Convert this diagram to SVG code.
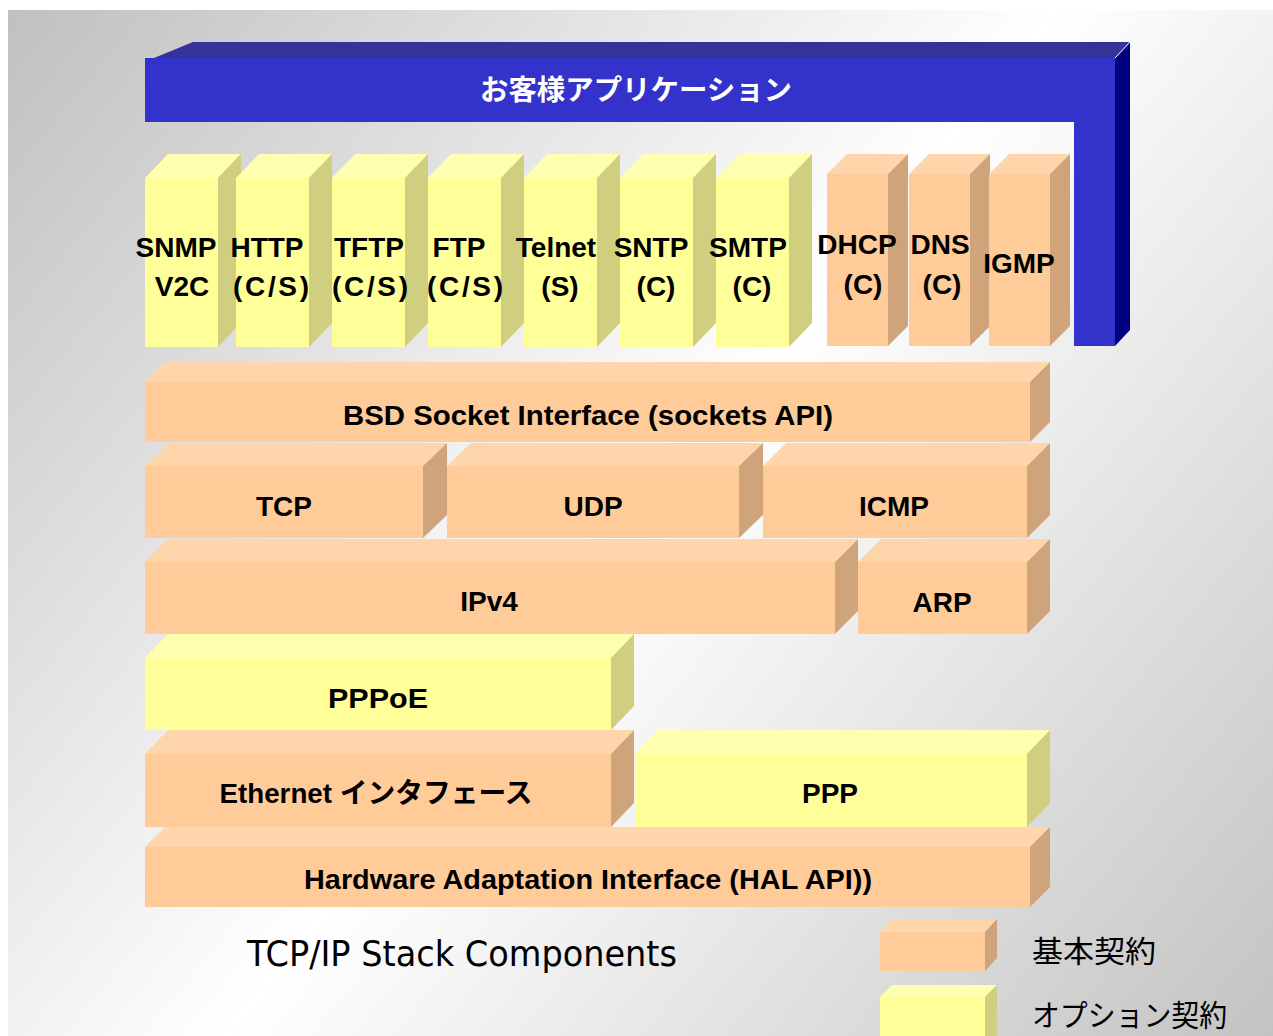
<svg xmlns="http://www.w3.org/2000/svg" width="1273" height="1036" viewBox="0 0 1273 1036">
<style>
.of{fill:#FFCC99}.ot{fill:#FFD6AC}.os{fill:#CFA47B}
.yf{fill:#FFFF99}.yt{fill:#FFFFB0}.ys{fill:#CFCF7F}
.lb{font-family:"Liberation Sans","Noto Sans CJK JP",sans-serif;font-weight:bold;font-size:28px;text-anchor:middle;fill:#000}
.lg{font-family:"Noto Sans CJK JP",sans-serif;font-size:30px;fill:#000}
</style>
<defs>
<linearGradient id="bg" gradientUnits="userSpaceOnUse" x1="8" y1="10" x2="1273" y2="1036">
<stop offset="0" stop-color="#c0c0c0"/><stop offset="0.5" stop-color="#ffffff"/><stop offset="1" stop-color="#c3c3c3"/>
</linearGradient>
</defs>
<rect width="1273" height="1036" fill="#fff"/>
<rect x="8" y="10" width="1265" height="1026" fill="url(#bg)"/>

<g id="app">
<polygon points="154,58 193,42 1130,42 1115,58" fill="#333399"/>
<polygon points="1115,58 1130,42 1130,330 1115,346" fill="#000080"/>
<polygon points="145,58 1115,58 1115,346 1074,346 1074,122 145,122" fill="#3333CC"/>
<line x1="1115" y1="58" x2="1130" y2="42" stroke="#fff" stroke-width="1"/>
<text x="636" y="100" font-family="'Noto Sans CJK JP',sans-serif" font-weight="bold" font-size="28" fill="#fff" text-anchor="middle" textLength="312" lengthAdjust="spacingAndGlyphs">お客様アプリケーション</text>
</g>

<g id="snmp"><polygon class="yt" points="145,178 168,154 241,154 218,178"/><polygon class="ys" points="218,178 241,154 241,323 218,347"/><rect class="yf" x="145" y="178" width="73" height="169"/><text class="lb" x="176" y="257">SNMP</text><text class="lb" x="182" y="296">V2C</text></g>
<g id="http"><polygon class="yt" points="236,178 259,154 332,154 309,178"/><polygon class="ys" points="309,178 332,154 332,323 309,347"/><rect class="yf" x="236" y="178" width="73" height="169"/><text class="lb" x="267" y="257">HTTP</text><text class="lb" x="271" y="296" textLength="76" lengthAdjust="spacing">(C/S)</text></g>
<g id="tftp"><polygon class="yt" points="332,178 355,154 428,154 405,178"/><polygon class="ys" points="405,178 428,154 428,323 405,347"/><rect class="yf" x="332" y="178" width="73" height="169"/><text class="lb" x="369" y="257">TFTP</text><text class="lb" x="370" y="296" textLength="76" lengthAdjust="spacing">(C/S)</text></g>
<g id="ftp"><polygon class="yt" points="428,178 451,154 524,154 501,178"/><polygon class="ys" points="501,178 524,154 524,323 501,347"/><rect class="yf" x="428" y="178" width="73" height="169"/><text class="lb" x="459" y="257">FTP</text><text class="lb" x="465" y="296" textLength="76" lengthAdjust="spacing">(C/S)</text></g>
<g id="telnet"><polygon class="yt" points="524,178 547,154 620,154 597,178"/><polygon class="ys" points="597,178 620,154 620,323 597,347"/><rect class="yf" x="524" y="178" width="73" height="169"/><text class="lb" x="556" y="257">Telnet</text><text class="lb" x="560" y="296">(S)</text></g>
<g id="sntp"><polygon class="yt" points="620,178 643,154 716,154 693,178"/><polygon class="ys" points="693,178 716,154 716,323 693,347"/><rect class="yf" x="620" y="178" width="73" height="169"/><text class="lb" x="651" y="257">SNTP</text><text class="lb" x="656" y="296">(C)</text></g>
<g id="smtp"><polygon class="yt" points="716,178 739,154 812,154 789,178"/><polygon class="ys" points="789,178 812,154 812,323 789,347"/><rect class="yf" x="716" y="178" width="73" height="169"/><text class="lb" x="748" y="257">SMTP</text><text class="lb" x="752" y="296">(C)</text></g>

<g id="dhcp"><polygon class="ot" points="827,174 847,154 908,154 888,174"/><polygon class="os" points="888,174 908,154 908,326 888,346"/><rect class="of" x="827" y="174" width="61" height="172"/><text class="lb" x="857" y="254">DHCP</text><text class="lb" x="863" y="294">(C)</text></g>
<g id="dns"><polygon class="ot" points="909,174 929,154 990,154 970,174"/><polygon class="os" points="970,174 990,154 990,326 970,346"/><rect class="of" x="909" y="174" width="61" height="172"/><text class="lb" x="940" y="254">DNS</text><text class="lb" x="942" y="294">(C)</text></g>
<g id="igmp"><polygon class="ot" points="989,174 1009,154 1070,154 1050,174"/><polygon class="os" points="1050,174 1070,154 1070,326 1050,346"/><rect class="of" x="989" y="174" width="61" height="172"/><text class="lb" x="1019" y="273">IGMP</text></g>

<g id="bsd"><polygon class="ot" points="145,382 165,362 1050,362 1030,382"/><polygon class="os" points="1030,382 1050,362 1050,422 1030,442"/><rect class="of" x="145" y="382" width="885" height="60"/><text class="lb" x="588" y="425" textLength="490" lengthAdjust="spacingAndGlyphs">BSD Socket Interface (sockets API)</text></g>

<g id="tcp"><polygon class="ot" points="145,466 169,443 447,443 423,466"/><polygon class="os" points="423,466 447,443 447,515 423,538"/><rect class="of" x="145" y="466" width="278" height="72"/><text class="lb" x="284" y="516">TCP</text></g>
<g id="udp"><polygon class="ot" points="447,466 471,443 763,443 739,466"/><polygon class="os" points="739,466 763,443 763,515 739,538"/><rect class="of" x="447" y="466" width="292" height="72"/><text class="lb" x="593" y="516">UDP</text></g>
<g id="icmp"><polygon class="ot" points="763,466 786,443 1050,443 1027,466"/><polygon class="os" points="1027,466 1050,443 1050,515 1027,538"/><rect class="of" x="763" y="466" width="264" height="72"/><text class="lb" x="894" y="516">ICMP</text></g>

<g id="ipv4"><polygon class="ot" points="145,562 168,539 858,539 835,562"/><polygon class="os" points="835,562 858,539 858,611 835,634"/><rect class="of" x="145" y="562" width="690" height="72"/><text class="lb" x="489" y="611">IPv4</text></g>
<g id="arp"><polygon class="ot" points="858,562 881,539 1050,539 1027,562"/><polygon class="os" points="1027,562 1050,539 1050,611 1027,634"/><rect class="of" x="858" y="562" width="169" height="72"/><text class="lb" x="942" y="612">ARP</text></g>

<g id="pppoe"><polygon class="yt" points="145,658 168,634 634,634 611,658"/><polygon class="ys" points="611,658 634,634 634,706 611,730"/><rect class="yf" x="145" y="658" width="466" height="72"/><text class="lb" x="378" y="708" textLength="100" lengthAdjust="spacingAndGlyphs">PPPoE</text></g>

<g id="ethernet"><polygon class="ot" points="145,754 168,730 634,730 611,754"/><polygon class="os" points="611,754 634,730 634,803 611,827"/><rect class="of" x="145" y="754" width="466" height="73"/><text class="lb" x="376" y="803" textLength="313" lengthAdjust="spacingAndGlyphs">Ethernet インタフェース</text></g>
<g id="ppp"><polygon class="yt" points="635,754 658,730 1050,730 1027,754"/><polygon class="ys" points="1027,754 1050,730 1050,803 1027,827"/><rect class="yf" x="635" y="754" width="392" height="73"/><text class="lb" x="830" y="803">PPP</text></g>

<g id="hal"><polygon class="ot" points="145,847 165,827 1050,827 1030,847"/><polygon class="os" points="1030,847 1050,827 1050,887 1030,907"/><rect class="of" x="145" y="847" width="885" height="60"/><text class="lb" x="588" y="889" textLength="568" lengthAdjust="spacingAndGlyphs">Hardware Adaptation Interface (HAL API))</text></g>

<g id="title"><text x="247" y="966" font-family="'DejaVu Sans',sans-serif" font-size="36" fill="#000" textLength="430" lengthAdjust="spacingAndGlyphs">TCP/IP Stack Components</text></g>

<g id="legend-basic"><polygon class="ot" points="880,932 892,919 997,919 985,932"/><polygon class="os" points="985,932 997,919 997,958 985,971"/><rect class="of" x="880" y="932" width="105" height="39"/><text class="lg" x="1032" y="962" textLength="124" lengthAdjust="spacingAndGlyphs">基本契約</text></g>
<g id="legend-option"><polygon class="yt" points="880,997 892,985 997,985 985,997"/><polygon class="ys" points="985,997 997,985 997,1035 985,1047"/><rect class="yf" x="880" y="997" width="105" height="50"/><text class="lg" x="1032" y="1026" textLength="195" lengthAdjust="spacingAndGlyphs">オプション契約</text></g>

<g id="connectors"/>
</svg>
